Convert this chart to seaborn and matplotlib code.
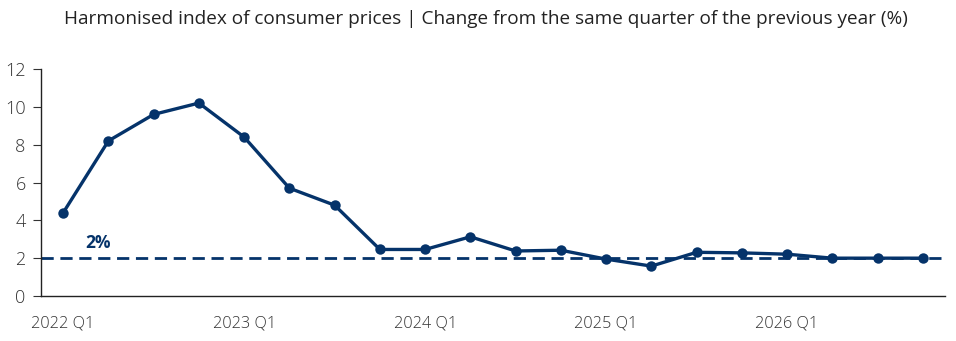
import matplotlib
matplotlib.use("Agg")
import matplotlib.pyplot as plt
import seaborn as sns
import pandas as pd
import numpy as np

quarters = [f"{y} Q{q}" for y in range(2022, 2027) for q in range(1, 5)]
hicp = [4.4, 8.2, 9.6, 10.2, 8.4, 5.7, 4.8, 2.46, 2.46, 3.13,
        2.38, 2.42, 1.95, 1.58, 2.31, 2.28, 2.21, 2.0, 2.0, 2.0]
target = 2.0
target_label = "2%"
yticks = [0, 2, 4, 6, 8, 10, 12]
title = "Harmonised index of consumer prices | Change from the same quarter of the previous year (%)"

navy = "#05336a"
text_col = "#333333"

sns.set_theme(style="white")
plt.rcParams["font.family"] = ["Open Sans", "DejaVu Sans"]

df = pd.DataFrame({"idx": np.arange(len(quarters)), "quarter": quarters, "value": hicp})

fig = plt.figure(figsize=(9.56, 3.41), dpi=100)
ax = fig.add_axes([41/956, 45/341, 904/956, 227/341])

ax.axhline(target, color=navy, lw=2.0, ls=(0, (4.4, 2.4)), zorder=1)
sns.lineplot(data=df, x="idx", y="value", ax=ax, color=navy, lw=2.4,
             marker="o", markersize=7.5, markeredgewidth=0, zorder=3)

ax.text(0.78, target + 0.8, target_label, color=navy, fontsize=12.5,
        fontweight="bold", ha="center", va="center")

ax.set_xlim(-0.49, len(quarters) - 0.51)
ax.set_ylim(0, 12)
ax.set_yticks(yticks)
ax.set_yticklabels([str(t) for t in yticks], fontsize=13, color=text_col,
                   fontweight="light")
ax.set_xticks(df["idx"][::4])
ax.set_xticklabels(df["quarter"][::4], fontsize=11.7, color=text_col,
                   fontweight="light")
ax.tick_params(axis="x", length=0, pad=14)
ax.tick_params(axis="y", length=6, width=0.8, color="#333333", pad=5, left=True)
ax.set_xlabel("")
ax.set_ylabel("")
for s in ["top", "right"]:
    ax.spines[s].set_visible(False)
for s in ["left", "bottom"]:
    ax.spines[s].set_color("#222222")
    ax.spines[s].set_linewidth(1.0)

# faint secondary tick marks along the bottom
ax2 = ax.twiny()
ax2.set_xlim(ax.get_xlim())
ax2.xaxis.set_ticks_position("bottom")
ax2.spines["bottom"].set_position(("outward", 40))
for s in ax2.spines.values():
    s.set_visible(False)
ax2.set_xticks(np.arange(-0.066, 19, 1.834))
ax2.set_xticklabels([])
ax2.tick_params(axis="x", bottom=True, top=False, length=6, width=0.8,
                color="#cccccc", direction="out")

fig.text(0.508, 0.945, title, ha="center", va="center", fontsize=13.7, color="#222222")

fig.savefig("out.png", dpi=100)
